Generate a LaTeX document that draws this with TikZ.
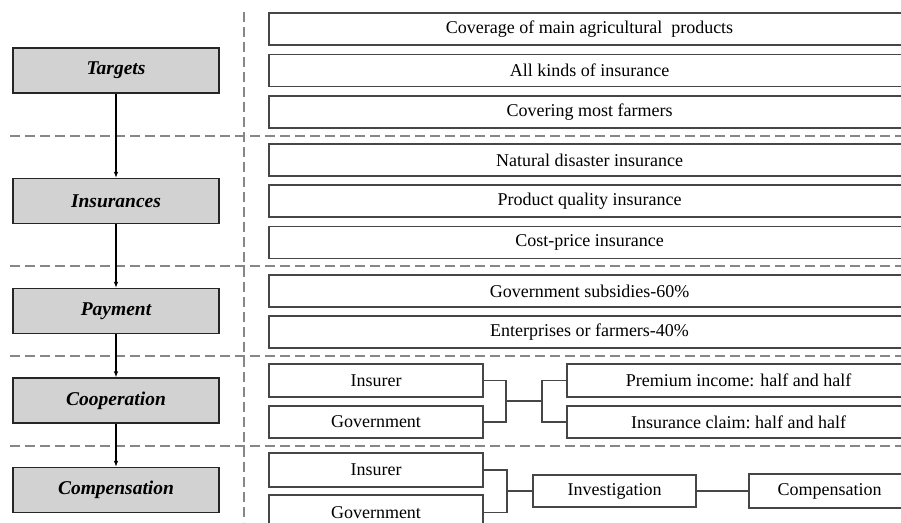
\documentclass[tikz,border=0pt]{standalone}
\usepackage{fontspec}
\setmainfont{Liberation Serif}
\usetikzlibrary{arrows.meta}

\definecolor{stagefill}{RGB}{210,210,210}
\definecolor{sepgray}{RGB}{135,135,135}
\definecolor{boxline}{RGB}{70,70,70}

\tikzset{
  stage/.style={draw=black!85, fill=stagefill, line width=1.3pt, inner sep=0pt,
    minimum width=206pt, minimum height=45pt,
    font=\fontsize{19.5}{22}\selectfont\bfseries\itshape},
  item/.style={draw=boxline, line width=1.3pt, inner sep=0pt, minimum height=32pt,
    font=\fontsize{18}{20}\selectfont},
  sep/.style={draw=sepgray, line width=1.4pt, dash pattern=on 10pt off 5pt},
  link/.style={draw=boxline, line width=1.3pt},
}

\begin{document}
\begin{tikzpicture}[x=1pt, y=-1pt, >={Latex[length=6pt, width=4.5pt]}]
\clip (0,0) rectangle (901,522);
\fill[white] (0,0) rectangle (901,522);

% separators
\draw[sep] (244,12) -- (244,522);
\draw[sep] (10,136) -- (910,136);
\draw[sep] (10,266) -- (910,266);
\draw[sep] (10,356) -- (910,356);
\draw[sep] (10,446) -- (910,446);

% stages on the left
\node[stage] (targets) at (116, 70.5) {Targets};
\node[stage] (insurances) at (116, 201) {Insurances};
\node[stage] (payment) at (116, 311) {Payment};
\node[stage] (cooperation) at (116, 400.5) {Cooperation};
\node[stage] (compensation) at (116, 490) {Compensation};

\draw[->, line width=1.1pt] (targets) -- (insurances);
\draw[->, line width=1.1pt] (insurances) -- (payment);
\draw[->, line width=1.1pt] (payment) -- (cooperation);
\draw[->, line width=1.1pt] (cooperation) -- (compensation);

% targets
\node[item, minimum width=641pt] (coverage) at (589.5, 29) {Coverage of main agricultural\ \ products};
\node[item, minimum width=641pt] (allkinds) at (589.5, 70.5) {All kinds of insurance};
\node[item, minimum width=641pt] (farmers) at (589.5, 112) {Covering most farmers};

% insurances
\node[item, minimum width=641pt] (disaster) at (589.5, 160) {Natural disaster insurance};
\node[item, minimum width=641pt] (quality) at (589.5, 201) {Product quality insurance};
\node[item, minimum width=641pt] (costprice) at (589.5, 242.5) {Cost-price insurance};

% payment
\node[item, minimum width=641pt] (subsidies) at (589.5, 291) {Government subsidies-60\%};
\node[item, minimum width=641pt] (enterprises) at (589.5, 332) {Enterprises or farmers-40\%};

% cooperation
\node[item, minimum width=214pt, minimum height=33pt] (insurerA) at (376, 380.5) {Insurer};
\node[item, minimum width=214pt] (governA) at (376, 422) {Government};
\node[item, minimum width=343pt, minimum height=33pt] (premium) at (738.5, 380.5) {Premium income: half and half};
\node[item, minimum width=343pt] (claim) at (738.5, 422) {Insurance claim:\ half and half};

\coordinate (joinA) at (506, 401);
\coordinate (splitA) at (542, 401);
\draw[link] (insurerA.east) -| (joinA) |- (governA.east);
\draw[link] (joinA) -- (splitA);
\draw[link] (premium.west) -| (splitA) |- (claim.west);

% compensation
\node[item, minimum width=214pt, minimum height=34pt] (insurerB) at (376, 470) {Insurer};
\node[item, minimum width=214pt, minimum height=35pt] (governB) at (376, 512.5) {Government};
\node[item, minimum width=163pt] (investigation) at (614.5, 491) {Investigation};
\node[item, minimum width=161pt, minimum height=34pt] (payout) at (829.5, 491) {Compensation};

\coordinate (joinB) at (507, 491);
\draw[link] (insurerB.east) -| (joinB) |- (governB.east);
\draw[link] (joinB) -- (investigation);
\draw[link] (investigation) -- (payout);
\end{tikzpicture}
\end{document}
